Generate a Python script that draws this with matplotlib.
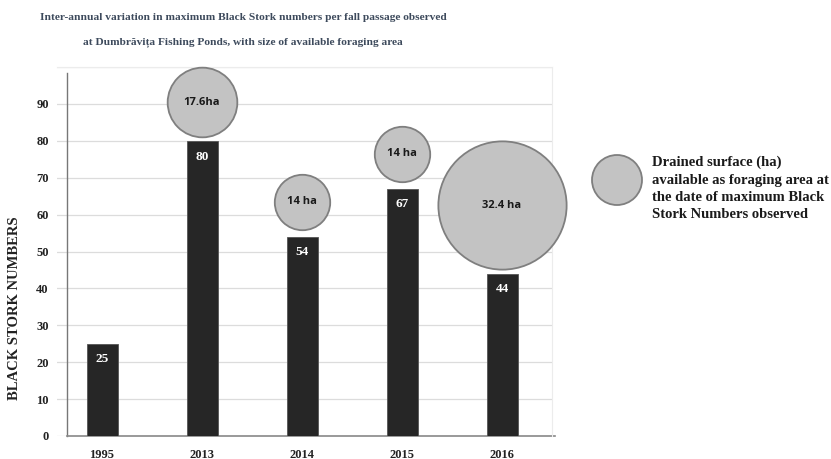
import matplotlib
matplotlib.use('Agg')
import matplotlib.pyplot as plt
from matplotlib.patches import Circle

# data
years = ['1995', '2013', '2014', '2015', '2016']
storks = [25, 80, 54, 67, 44]
area_labels = [None, '17.6ha', '14 ha', '14 ha', '32.4 ha']
area_ha = [None, 17.6, 14, 14, 32.4]
bubble_y = [None, 90.5, 63.5, 76.5, 62.5]
yticks = [0, 10, 20, 30, 40, 50, 60, 70, 80, 90]

serif = 'Liberation Serif'
fig = plt.figure(figsize=(8.31, 4.59), dpi=100)
ax = fig.add_axes([57/831, 23/459, 495/831, 369/459])

x = list(range(len(years)))
ax.bar(x, storks, width=0.31, color='#262626', edgecolor='#555555', linewidth=0.6, zorder=3)
for xi, v in zip(x, storks):
    ax.annotate(str(v), (xi, v), xytext=(0, -7), textcoords='offset points',
                ha='center', va='top', color='white', fontsize=9.5,
                fontweight='bold', family=serif, zorder=5)

# bubbles: foraging area, radius proportional to ha
for xi, a, by, lab in zip(x, area_ha, bubble_y, area_labels):
    if a is None:
        continue
    ax.scatter(xi, by, s=(2.85 * a) ** 2, color='#c3c3c3', edgecolor='#7f7f7f',
               linewidth=1.3, zorder=4, clip_on=False)
    ax.text(xi, by, lab, ha='center', va='center', fontsize=8, fontweight='bold',
            family='Open Sans', color='#1a1a1a', zorder=6)

ax.set_xlim(-0.45, 4.5)
ax.set_ylim(0, 100)
ax.set_yticks(yticks)
ax.set_xticks(x)
ax.set_xticklabels(years)
ax.tick_params(length=0, pad=9, labelsize=9, colors='#222222')
for lab in ax.get_xticklabels() + ax.get_yticklabels():
    lab.set_family(serif)
    lab.set_fontweight('bold')
ax.tick_params(axis='y', pad=6)
ax.grid(axis='y', color='#dcdcdc', linewidth=0.9, zorder=0)
ax.set_yticks([100], minor=True)
ax.grid(axis='y', which='minor', color='#dcdcdc', linewidth=0.9, zorder=0)
ax.tick_params(axis='y', which='minor', length=0)
ax.set_axisbelow(True)
for s in ['left', 'bottom']:
    ax.spines[s].set_visible(False)
for s in ['top', 'right']:
    ax.spines[s].set_color('#ececec')
ax.plot([-0.35, -0.35], [0, 98.5], color='#777777', linewidth=1.0, zorder=2, clip_on=False)
ax.plot([-0.35, 4.53], [0, 0], color='#888888', linewidth=1.2, zorder=2, clip_on=False)

fig.text(15/831, 1 - 308/459, 'BLACK STORK NUMBERS', rotation=90, ha='center', va='center',
         fontsize=10.5, fontweight='bold', family=serif, color='#222222')

fig.text(243/831, 1 - 17/459, 'Inter-annual variation in maximum Black Stork numbers per fall passage observed',
         ha='center', va='center', fontsize=8.2, fontweight='bold', family=serif, color='#3d4a5c')
fig.text(243/831, 1 - 42/459, 'at Dumbrăvița Fishing Ponds, with size of available foraging area',
         ha='center', va='center', fontsize=8.2, fontweight='bold', family=serif, color='#3d4a5c')

# legend bubble
fig.add_artist(Circle((6.17, 4.59 - 1.80), 0.25, transform=fig.dpi_scale_trans,
                      facecolor='#c3c3c3', edgecolor='#7f7f7f', linewidth=1.3))
fig.text(652/831, 1 - 156/459,
         'Drained surface (ha)\navailable as foraging area at\nthe date of maximum Black\nStork Numbers observed',
         ha='left', va='top', fontsize=10.5, fontweight='bold', family=serif,
         color='#1a1a1a', linespacing=1.42)

fig.savefig('out.png', dpi=100)
